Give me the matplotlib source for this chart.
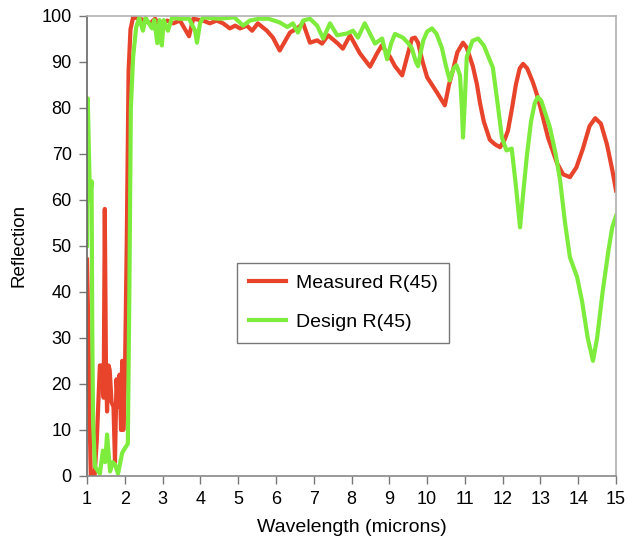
import matplotlib.pyplot as plt

plt.rcParams['font.family'] = ['Liberation Sans', 'DejaVu Sans']

# Measured R(45)
meas_wl = [1.00, 1.02, 1.04, 1.07, 1.10, 1.20, 1.26, 1.30, 1.34, 1.40, 1.44, 1.47,
           1.50, 1.53, 1.57, 1.60, 1.65, 1.70, 1.74, 1.78, 1.82, 1.86, 1.90, 1.93,
           1.96, 2.00, 2.05, 2.10, 2.15, 2.22, 2.40, 2.53, 2.67, 2.80, 2.93, 3.12,
           3.28, 3.46, 3.70, 3.81, 4.07, 4.25, 4.43, 4.60, 4.78, 4.92, 5.05, 5.23,
           5.37, 5.52, 5.76, 5.92, 6.10, 6.37, 6.56, 6.72, 6.90, 7.09, 7.22, 7.38,
           7.64, 7.77, 7.96, 8.22, 8.49, 8.67, 8.80, 9.02, 9.15, 9.34, 9.47, 9.60,
           9.68, 9.76, 9.88, 10.00, 10.26, 10.47, 10.58, 10.68, 10.80, 10.95, 11.05,
           11.21, 11.32, 11.40, 11.50, 11.66, 11.80, 11.93, 12.05, 12.14, 12.25,
           12.35, 12.45, 12.54, 12.65, 12.80, 12.90, 13.00, 13.20, 13.44, 13.60,
           13.78, 13.95, 14.12, 14.30, 14.45, 14.60, 14.76, 14.90, 15.00]
meas_r = [47, 38, 31, 12, 0, 0, 8, 16, 24, 24, 17, 58,
          25, 14, 24, 23, 16, 15, 3, 21, 15, 22, 10, 25,
          10, 20, 50, 88, 97, 99.6, 99.3, 98.9, 98.3, 99.3, 97.8, 98.9,
          98.3, 98.9, 95.5, 99.3, 98.9, 98.3, 98.9, 98.3, 97.2, 97.8, 97.2, 97.8,
          96.7, 98.3, 96.7, 95.2, 92.4, 96.3, 97.2, 98.3, 94.1, 94.6, 93.9, 95.7,
          93.9, 92.8, 95.7, 91.8, 88.9, 91.7, 93.5, 91.0, 89.0, 87.0, 91.0, 95.0,
          95.2, 94.1, 90.0, 86.6, 83.3, 80.5, 85.0, 88.0, 92.0, 94.1, 93.0,
          89.0, 85.0, 81.0, 77.0, 73.0, 72.0, 71.4, 73.0, 75.0, 80.0,
          85.0, 88.5, 89.5, 88.5, 85.5, 83.0, 80.0, 73.5, 67.9, 65.5,
          64.9, 67.0, 71.0, 76.0, 77.7, 76.5, 72.0, 66.5, 62.0]

# Design R(45)
design_wl = [1.00, 1.02, 1.05, 1.08, 1.12, 1.14, 1.16, 1.21, 1.34, 1.42, 1.48, 1.53,
             1.61, 1.68, 1.74, 1.82, 1.93, 2.00, 2.08, 2.12, 2.16, 2.22, 2.30, 2.38,
             2.48, 2.55, 2.72, 2.78, 2.86, 2.92, 2.98, 3.03, 3.14, 3.25, 3.46, 3.70,
             3.86, 3.91, 3.99, 4.07, 4.50, 4.90, 5.13, 5.31, 5.55, 5.80, 6.10, 6.30,
             6.45, 6.58, 6.72, 6.90, 7.09, 7.25, 7.43, 7.62, 7.88, 8.04, 8.17, 8.35,
             8.62, 8.81, 8.94, 9.05, 9.15, 9.36, 9.50, 9.60, 9.70, 9.76, 9.83, 9.90,
             10.00, 10.13, 10.25, 10.39, 10.50, 10.60, 10.70, 10.78, 10.87, 10.92,
             10.95, 10.99, 11.05, 11.20, 11.35, 11.50, 11.74, 11.88, 11.98, 12.10,
             12.24, 12.35, 12.46, 12.55, 12.64, 12.75, 12.85, 12.93, 13.02, 13.12,
             13.25, 13.40, 13.52, 13.65, 13.78, 13.97, 14.10, 14.25, 14.39, 14.50,
             14.65, 14.80, 14.90, 15.00]
design_r = [50, 82, 70, 60, 64, 30, 12, 2, 0.5, 5.5, 3, 9,
            1, 3, 2.5, 0.5, 5, 6, 7, 40, 80, 91, 97.4, 99.5,
            96.7, 99.5, 97.2, 99.0, 94.0, 99.0, 93.5, 99.0, 96.7, 99.5, 99.3, 99.3,
            96.7, 94.1, 98.3, 99.6, 99.3, 99.6, 97.8, 98.9, 99.3, 99.3, 98.5, 97.5,
            98.3, 96.3, 98.9, 99.3, 97.8, 95.0, 98.3, 95.7, 96.1, 96.7, 95.2, 98.3,
            93.9, 95.0, 90.5, 94.0, 96.0, 95.2, 94.0, 92.8, 90.0, 89.0, 92.0, 94.6,
            96.5, 97.2, 96.0, 93.0, 89.0, 85.9, 88.5, 89.2, 87.0, 80.0,
            73.5, 80.0, 91.0, 94.5, 95.0, 93.5, 88.7, 80.0, 73.5, 70.7,
            71.1, 63.0, 54.0, 62.0, 69.5, 77.0, 81.0, 82.3, 81.5, 79.0,
            75.7, 70.0, 64.2, 55.0, 47.5, 43.2, 38.0, 30.0, 25.0, 30.0,
            40.3, 49.0, 54.0, 56.5]

fig = plt.figure(figsize=(6.27, 5.52), dpi=100)
ax = fig.add_axes([0.1388, 0.1377, 0.8437, 0.8342])

ax.plot(meas_wl, meas_r, color='#e8432b', lw=3.0, solid_joinstyle='round',
        label='Measured R(45)')
ax.plot(design_wl, design_r, color='#7eec3c', lw=3.0, solid_joinstyle='round',
        label='Design R(45)')

ax.set_xlim(1, 15)
ax.set_ylim(0, 100)
ax.set_xticks(range(1, 16))
ax.set_yticks(range(0, 101, 10))
ax.tick_params(labelsize=13, direction='out', length=6, width=1, color='#777777',
               pad=5)

ax.spines['left'].set_color('#666666')
ax.spines['bottom'].set_color('#888888')
ax.spines['top'].set_color('#b0b0b0')
ax.spines['right'].set_color('#b0b0b0')
for s in ax.spines.values():
    s.set_linewidth(1.2)

ax.set_xlabel('Wavelength (microns)', fontsize=14, labelpad=8)
ax.set_ylabel('Reflection', fontsize=13.5, labelpad=10)

leg = ax.legend(loc='upper left', bbox_to_anchor=(0.284, 0.463), fontsize=14,
                frameon=True, fancybox=False, edgecolor='#555555',
                handlelength=1.9, handletextpad=0.5, borderpad=0.6,
                labelspacing=1.1, borderaxespad=0)
leg.get_frame().set_linewidth(1.0)

fig.savefig('out.png', dpi=100)
